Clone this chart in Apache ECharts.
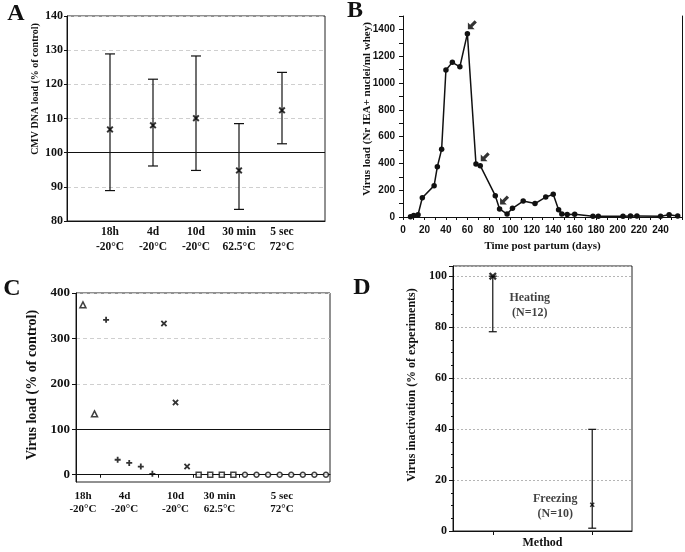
<!DOCTYPE html>
<html>
<head>
<meta charset="utf-8">
<script src="https://cdn.jsdelivr.net/npm/echarts@6/dist/echarts.min.js"></script>
<style>
html, body { margin: 0; padding: 0; background: #fff; }
#main { width: 685px; height: 552px; }
</style>
</head>
<body>
<div id="main"></div>
<script>
var SERIF = '"Liberation Serif", "Times New Roman", serif';
var SANS = '"Liberation Sans", Arial, sans-serif';

// A - CMV DNA load
var aLabels = ['18h\n-20°C', '4d\n-20°C', '10d\n-20°C', '30 min\n62.5°C', '5 sec\n72°C'];
var aMean = [106.8, 108, 110.1, 94.8, 112.4];
var aLow = [88.9, 96.1, 94.8, 83.4, 102.6];
var aHigh = [128.9, 121.5, 128.3, 108.5, 123.5];
var aControl = 100;

// B - virus load over time
var bDays = [7, 10, 14, 18, 29, 32, 36, 40, 46, 53, 60, 68, 72, 86, 90, 97, 102, 112, 123, 133, 140, 145, 148, 153, 160, 177, 182, 205, 212, 218, 240, 248, 256];
var bLoad = [2, 12, 17, 144, 234, 375, 505, 1097, 1154, 1121, 1368, 395, 383, 159, 60, 22, 65, 119, 100, 149, 169, 54, 22, 18, 20, 5, 5, 5, 7, 7, 5, 17, 8];
var bArrowDays = [60, 72, 90];

// C - virus load per sample
var cLabels = ['18h\n-20°C', '4d\n-20°C', '10d\n-20°C', '30 min\n62.5°C', '5 sec\n72°C'];
var cLabelAt = [1, 4.6, 9, 12.8, 18.2];
var cTriangle = [374, 134];
var cPlus = [341, 33, 26, 18, 2];
var cCross = [333, 159, 18];
var cSquare = [0, 0, 0, 0];
var cCircle = [0, 0, 0, 0, 0, 0, 0, 0];
var cControl = 100;

// D - virus inactivation
var dLabels = ['Heating\n(N=12)', 'Freezing\n(N=10)'];
var dMean = [100, 10.3];
var dLow = [78.2, 1.1];
var dHigh = [100, 39.9];

var X_PATH = 'path://M0,2L2,0L5,3L8,0L10,2L7,5L10,8L8,10L5,7L2,10L0,8L3,5Z';
var PLUS_PATH = 'path://M3.5,0H6.5V3.5H10V6.5H6.5V10H3.5V6.5H0V3.5H3.5Z';
var ARROW_PATH = 'path://M0,10L0,2.5L2.5,5L7.5,0L10,2.5L5,7.5L7.5,10Z';

function errorBars(capHalf) {
	return function (params, api) {
		var x = api.value(0);
		var lo = api.coord([x, api.value(1)]);
		var hi = api.coord([x, api.value(2)]);
		var st = { stroke: '#111', lineWidth: 1.2 };
		return {
			type: 'group',
			children: [
				{ type: 'line', shape: { x1: lo[0], y1: lo[1], x2: hi[0], y2: hi[1] }, style: st },
				{ type: 'line', shape: { x1: lo[0] - capHalf, y1: lo[1], x2: lo[0] + capHalf, y2: lo[1] }, style: st },
				{ type: 'line', shape: { x1: hi[0] - capHalf, y1: hi[1], x2: hi[0] + capHalf, y2: hi[1] }, style: st }
			]
		};
	};
}

// build series data from the arrays
var aErr = [], aPts = [];
for (var i = 0; i < aMean.length; i++) {
	aErr.push([i + 1, aLow[i], aHigh[i]]);
	aPts.push([i + 1, aMean[i]]);
}

var bLine = [];
for (var i = 0; i < bDays.length; i++) bLine.push([bDays[i], bLoad[i]]);
var bArrows = bArrowDays.map(function (d) {
	return [d, bLoad[bDays.indexOf(d)]];
});

var cIdx = 1;
function cSeq(arr) {
	return arr.map(function (v) { return [cIdx++, v]; });
}
var cTri = cSeq(cTriangle), cPl = cSeq(cPlus), cCr = cSeq(cCross), cSq = cSeq(cSquare), cCi = cSeq(cCircle);

var dErr = [], dPts = [];
for (var i = 0; i < dMean.length; i++) {
	dErr.push([i + 1, dLow[i], dHigh[i]]);
	dPts.push({ value: [i + 1, dMean[i]], label: { formatter: dLabels[i], offset: i === 0 ? [37, 29] : [-37, 2] }, symbolSize: i === 0 ? 8 : 5 });
}

var gridLineDash = { show: true, lineStyle: { color: '#cfcfcf', type: [4, 3], width: 1 } };
var blackAxis = { show: true, lineStyle: { color: '#111', width: 1 } };

var myChart = echarts.init(document.getElementById('main'));
myChart.setOption({
	animation: false,
	backgroundColor: '#fff',
	grid: [
		{ left: 67, top: 16, width: 258, height: 205, show: true, borderColor: '#222', borderWidth: 1 },
		{ left: 403, top: 16, width: 281, height: 201 },
		{ left: 76, top: 293, width: 254, height: 189, show: true, borderColor: '#222', borderWidth: 1 },
		{ left: 453, top: 266, width: 179, height: 265, show: true, borderColor: '#222', borderWidth: 1 }
	],
	xAxis: [{
		gridIndex: 0, type: 'value', min: 0, max: 6,
		axisLine: blackAxis, axisTick: { show: false }, splitLine: { show: false },
		axisLabel: {
			customValues: aLabels.map(function (l, i) { return i + 1; }),
			formatter: function (v) { return aLabels[v - 1]; },
			color: '#111', fontFamily: SERIF, fontWeight: 'bold', fontSize: 11.5, lineHeight: 15, margin: 4
		}
	}, {
		gridIndex: 1, type: 'value', min: 0, max: 260, interval: 10,
		axisLine: blackAxis, axisTick: { show: true, length: 3, lineStyle: { color: '#111' } }, splitLine: { show: false },
		axisLabel: {
			formatter: function (v) { return (v % 20 === 0 && v <= 240) ? v : ''; },
			color: '#111', fontFamily: SANS, fontWeight: 'bold', fontSize: 10, margin: 8
		},
		name: 'Time post partum (days)', nameLocation: 'middle', nameGap: 24,
		nameTextStyle: { color: '#111', fontFamily: SERIF, fontWeight: 'bold', fontSize: 11 }
	}, {
		gridIndex: 2, type: 'value', min: 0.4, max: 22.35,
		axisLine: blackAxis,
		axisTick: { show: true, length: 3, customValues: [2.5, 7.5, 10.5, 14.5], lineStyle: { color: '#111' } },
		splitLine: { show: false },
		axisLabel: {
			customValues: cLabelAt,
			formatter: function (v) { return cLabels[cLabelAt.indexOf(v)]; },
			color: '#111', fontFamily: SERIF, fontWeight: 'bold', fontSize: 11, lineHeight: 12.5, margin: 8
		}
	}, {
		gridIndex: 3, type: 'value', min: 0.6, max: 2.4,
		axisLine: blackAxis,
		axisTick: { show: true, length: 4, customValues: [1, 2], lineStyle: { color: '#111' } },
		splitLine: { show: false },
		axisLabel: { show: false },
		name: 'Method', nameLocation: 'middle', nameGap: 6,
		nameTextStyle: { color: '#111', fontFamily: SERIF, fontWeight: 'bold', fontSize: 12, verticalAlign: 'top' }
	}],
	yAxis: [{
		gridIndex: 0, type: 'value', min: 80, max: 140, interval: 10,
		axisLine: blackAxis, axisTick: { show: true, length: 3, lineStyle: { color: '#111' } },
		splitLine: gridLineDash,
		axisLabel: { color: '#111', fontFamily: SERIF, fontWeight: 'bold', fontSize: 12, margin: 4 }
	}, {
		gridIndex: 1, type: 'value', min: 0, max: 1500, interval: 100,
		axisLine: blackAxis, axisTick: { show: true, length: 4, lineStyle: { color: '#111' } },
		splitLine: { show: false },
		axisLabel: {
			formatter: function (v) { return (v % 200 === 0 && v < 1500) ? v : ''; },
			color: '#111', fontFamily: SANS, fontWeight: 'bold', fontSize: 10, margin: 8
		}
	}, {
		gridIndex: 1, type: 'value', min: 0, max: 1500, position: 'right',
		axisLine: blackAxis, axisTick: { show: false }, axisLabel: { show: false }, splitLine: { show: false }
	}, {
		gridIndex: 2, type: 'value', min: -16, max: 400,
		axisLine: blackAxis,
		axisTick: { show: true, length: 4, customValues: [0, 100, 200, 300, 400], lineStyle: { color: '#111' } },
		splitLine: gridLineDash,
		axisLabel: { customValues: [0, 100, 200, 300, 400], color: '#111', fontFamily: SERIF, fontWeight: 'bold', fontSize: 13, margin: 6 }
	}, {
		gridIndex: 3, type: 'value', min: 0, max: 104, interval: 20,
		axisLine: blackAxis,
		axisTick: { show: true, length: 4, lineStyle: { color: '#111' } },
		minorTick: { show: true, splitNumber: 4, length: 2, lineStyle: { color: '#111' } },
		splitLine: { show: true, lineStyle: { color: '#b5b5b5', type: [2, 2], width: 1 } },
		axisLabel: {
			formatter: function (v) { return v % 20 === 0 ? v : ''; },
			color: '#111', fontFamily: SERIF, fontWeight: 'bold', fontSize: 12, margin: 6
		}
	}],
	series: [{
		type: 'custom', xAxisIndex: 0, yAxisIndex: 0,
		renderItem: errorBars(5), encode: { x: 0, y: [1, 2] }, data: aErr, z: 3
	}, {
		type: 'scatter', xAxisIndex: 0, yAxisIndex: 0,
		symbol: X_PATH, symbolSize: 7, itemStyle: { color: '#000' }, data: aPts, z: 4,
		markLine: {
			silent: true, symbol: 'none', label: { show: false },
			lineStyle: { color: '#111', type: 'solid', width: 1 },
			data: [{ yAxis: aControl }]
		}
	}, {
		type: 'line', xAxisIndex: 1, yAxisIndex: 1, data: bLine,
		symbol: 'circle', symbolSize: 5.5, showSymbol: true,
		lineStyle: { color: '#111', width: 1.5 }, itemStyle: { color: '#111' }
	}, {
		type: 'scatter', xAxisIndex: 1, yAxisIndex: 1, data: bArrows,
		symbol: ARROW_PATH, symbolSize: 9, symbolOffset: [5, -9], itemStyle: { color: '#000' }
	}, {
		type: 'scatter', xAxisIndex: 2, yAxisIndex: 3, data: cTri,
		symbol: 'triangle', symbolSize: 6, itemStyle: { color: '#fff', borderColor: '#111', borderWidth: 1.5 },
		markLine: {
			silent: true, symbol: 'none', label: { show: false },
			lineStyle: { color: '#111', type: 'solid', width: 1 },
			data: [{ yAxis: cControl }]
		}
	}, {
		type: 'scatter', xAxisIndex: 2, yAxisIndex: 3, data: cPl,
		symbol: PLUS_PATH, symbolSize: 6, itemStyle: { color: '#000' }
	}, {
		type: 'scatter', xAxisIndex: 2, yAxisIndex: 3, data: cCr,
		symbol: X_PATH, symbolSize: 6.5, itemStyle: { color: '#000' }
	}, {
		type: 'scatter', xAxisIndex: 2, yAxisIndex: 3, data: cSq,
		symbol: 'rect', symbolSize: 5, itemStyle: { color: '#fff', borderColor: '#111', borderWidth: 1.5 }
	}, {
		type: 'scatter', xAxisIndex: 2, yAxisIndex: 3, data: cCi,
		symbol: 'circle', symbolSize: 5, itemStyle: { color: '#fff', borderColor: '#111', borderWidth: 1.5 }
	}, {
		type: 'custom', xAxisIndex: 3, yAxisIndex: 4,
		renderItem: errorBars(4), encode: { x: 0, y: [1, 2] }, data: dErr, z: 3
	}, {
		type: 'scatter', xAxisIndex: 3, yAxisIndex: 4, data: dPts, z: 4,
		symbol: X_PATH, itemStyle: { color: '#000' },
		label: {
			show: true, position: 'inside', align: 'center', verticalAlign: 'middle',
			color: '#111', fontFamily: SERIF, fontWeight: 'bold', fontSize: 12, lineHeight: 15
		}
	}],
	graphic: [
		{ type: 'text', x: 16, y: 14, style: { text: 'A', font: 'bold 24px ' + SERIF, fill: '#111', align: 'center', verticalAlign: 'middle' } },
		{ type: 'text', x: 355, y: 11, style: { text: 'B', font: 'bold 24px ' + SERIF, fill: '#111', align: 'center', verticalAlign: 'middle' } },
		{ type: 'text', x: 12, y: 289, style: { text: 'C', font: 'bold 24px ' + SERIF, fill: '#111', align: 'center', verticalAlign: 'middle' } },
		{ type: 'text', x: 362, y: 288, style: { text: 'D', font: 'bold 24px ' + SERIF, fill: '#111', align: 'center', verticalAlign: 'middle' } },
		{ type: 'text', x: 35, y: 89, rotation: Math.PI / 2, style: { text: 'CMV DNA load (% of control)', font: 'bold 10px ' + SERIF, fill: '#111', align: 'center', verticalAlign: 'middle' } },
		{ type: 'text', x: 367, y: 109, rotation: Math.PI / 2, style: { text: 'Virus load (Nr IEA+ nuclei/ml whey)', font: 'bold 11px ' + SERIF, fill: '#111', align: 'center', verticalAlign: 'middle' } },
		{ type: 'text', x: 32, y: 385, rotation: Math.PI / 2, style: { text: 'Virus load (% of control)', font: 'bold 14px ' + SERIF, fill: '#111', align: 'center', verticalAlign: 'middle' } },
		{ type: 'text', x: 412, y: 385, rotation: Math.PI / 2, style: { text: 'Virus inactivation (% of experiments)', font: 'bold 12px ' + SERIF, fill: '#111', align: 'center', verticalAlign: 'middle' } }
	]
});
</script>
</body>
</html>
